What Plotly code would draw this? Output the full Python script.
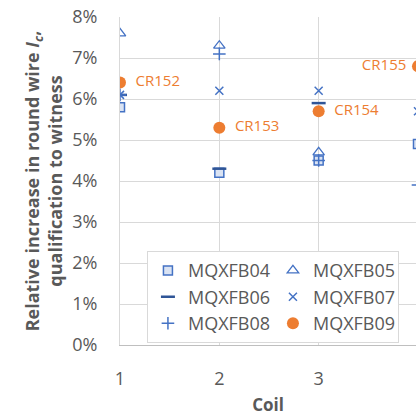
import plotly.graph_objects as go

coils = [1, 2, 3, 4]
mqxfb04 = [0.058, 0.042, 0.045, 0.049]
mqxfb05 = [0.076, 0.073, 0.047, None]
mqxfb06 = [0.061, 0.043, 0.059, None]
mqxfb07 = [0.061, 0.062, 0.062, 0.057]
mqxfb08 = [0.061, 0.071, 0.045, 0.039]
mqxfb09 = [0.064, 0.053, 0.057, 0.068]
cr_labels = ["CR152", "CR153", "CR154", "CR155"]
cr_positions = ["middle right", "middle right", "middle right", "middle left"]

BLUE = "#4472c4"
DARK = "#2f5597"
ORANGE = "#ed7d31"
GREY = "#595959"
FONT = "Open Sans"

fig = go.Figure()
fig.add_trace(go.Scatter(x=coils, y=mqxfb04, mode="markers", name="MQXFB04",
                         marker=dict(symbol="square", size=9, color="#dae3f3",
                                     line=dict(color=BLUE, width=1.5))))
fig.add_trace(go.Scatter(x=coils, y=mqxfb05, mode="markers", name="MQXFB05",
                         marker=dict(symbol="triangle-up-open", size=10, color=BLUE,
                                     line=dict(color=BLUE, width=1.3))))
fig.add_trace(go.Scatter(x=coils, y=mqxfb06, mode="markers", name="MQXFB06",
                         marker=dict(symbol="line-ew-open", size=10, color=DARK,
                                     line=dict(color=DARK, width=2.5))))
fig.add_trace(go.Scatter(x=coils, y=mqxfb07, mode="markers", name="MQXFB07",
                         marker=dict(symbol="x-thin-open", size=8, color=BLUE,
                                     line=dict(color=BLUE, width=1.5))))
fig.add_trace(go.Scatter(x=coils, y=mqxfb08, mode="markers", name="MQXFB08",
                         marker=dict(symbol="cross-thin-open", size=9, color=BLUE,
                                     line=dict(color=BLUE, width=1.5))))
fig.add_trace(go.Scatter(x=coils, y=mqxfb09, mode="markers", name="MQXFB09",
                         marker=dict(symbol="circle", size=12, color=ORANGE)))
nb = "\u00a0"
texts = [(nb * 4 + t) if p.endswith("right") else (t + nb * 3)
         for t, p in zip(cr_labels, cr_positions)]
fig.add_trace(go.Scatter(x=coils, y=mqxfb09, mode="text", text=texts,
                         textposition=cr_positions, showlegend=False,
                         textfont=dict(family=FONT, size=15, color=ORANGE),
                         hoverinfo="skip"))

fig.update_layout(
    width=416, height=416,
    margin=dict(l=120, r=0, t=17, b=71, autoexpand=False),
    paper_bgcolor="white", plot_bgcolor="white",
    font=dict(family=FONT, color=GREY),
    showlegend=True,
    legend=dict(orientation="h", x=0.091, y=0.286, xanchor="left", yanchor="top",
                bgcolor="white", bordercolor="#d9d9d9", borderwidth=1,
                font=dict(family=FONT, size=18, color=GREY),
                entrywidth=80, entrywidthmode="pixels", traceorder="normal"),
    xaxis=dict(range=[1, 3.98], tickvals=coils, ticktext=[str(c) for c in coils],
               automargin=False,
               showgrid=True, gridcolor="#d9d9d9", gridwidth=1,
               showline=True, linecolor="#bfbfbf", linewidth=1,
               zeroline=False, ticks="outside", ticklen=17, tickcolor="rgba(0,0,0,0)",
               tickfont=dict(family=FONT, size=18, color=GREY),
               title=dict(text="<b>Coil</b>", standoff=12,
                          font=dict(family=FONT, size=17, color=GREY))),
    yaxis=dict(range=[0, 0.08], dtick=0.01, tickformat=".0%",
               automargin=False,
               showgrid=True, gridcolor="#d9d9d9", gridwidth=1,
               showline=True, linecolor="#d9d9d9", linewidth=1,
               zeroline=False, ticks="outside", ticklen=18, tickcolor="rgba(0,0,0,0)",
               tickfont=dict(family=FONT, size=18, color=GREY),
               title=dict(text="<b>Relative increase in round wire <i>I</i><sub><i>c</i></sub>,<br>qualification to witness</b>",
                          standoff=4, font=dict(family=FONT, size=18, color=GREY))),
)

fig.write_html("out.html", post_script="document.body.style.margin='0';",
               config={"displayModeBar": False})
